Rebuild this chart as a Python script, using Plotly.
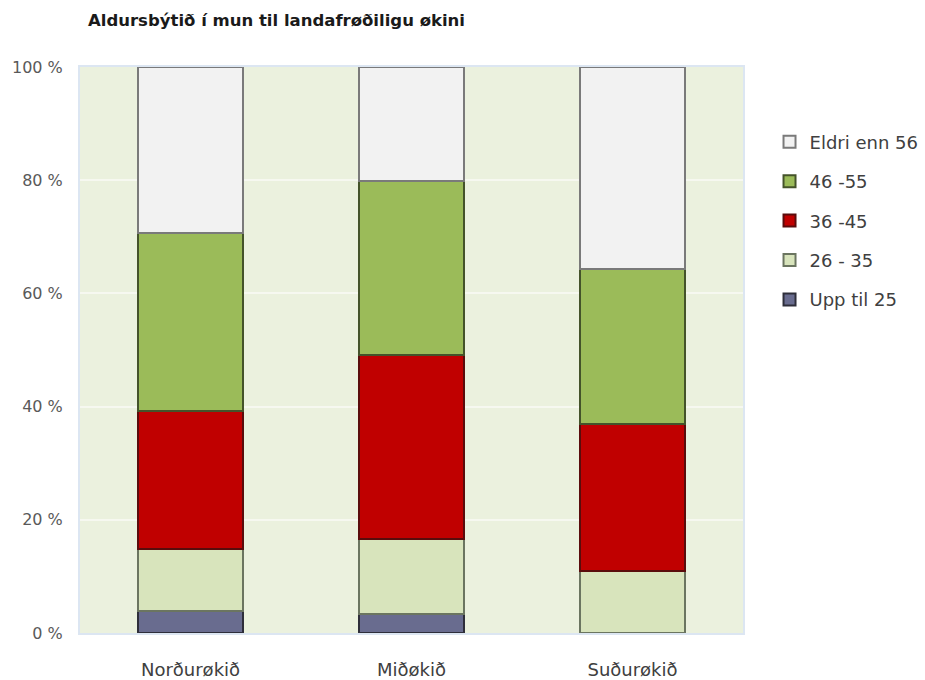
import plotly.graph_objects as go

categories = ["Norðurøkið", "Miðøkið", "Suðurøkið"]
series_names = ["Upp til 25", "26 - 35", "36 -45", "46 -55", "Eldri enn 56"]
upp_til_25 = [3.8, 3.3, 0.0]
aldur_26_35 = [11.0, 13.3, 11.0]
aldur_36_45 = [24.4, 32.6, 26.0]
aldur_46_55 = [31.5, 30.7, 27.4]
eldri_enn_56 = [29.3, 20.1, 35.6]
y_tick_vals = [0, 20, 40, 60, 80, 100]
y_tick_text = ["0 %", "20 %", "40 %", "60 %", "80 %", "100 %"]

values = [upp_til_25, aldur_26_35, aldur_36_45, aldur_46_55, eldri_enn_56]
fills = ["#696c8f", "#d8e4bc", "#c00000", "#9bbb59", "#f2f2f2"]
lines = ["#2e2e3a", "#6b7560", "#5a0c0c", "#44532a", "#7a7a7a"]

fig = go.Figure()
n = len(series_names)
for i, (name, vals, fc, lc) in enumerate(zip(series_names, values, fills, lines)):
    fig.add_trace(go.Bar(
        x=categories, y=vals, name=name, legendgroup=name,
        legendrank=n - i,
        marker=dict(color=fc, line=dict(color=lc, width=2)),
    ))

fig.update_layout(
    width=925, height=680,
    barmode="stack", bargap=0.525,
    paper_bgcolor="white", plot_bgcolor="#ebf1de",
    margin=dict(l=80, r=182, t=67, b=47, autoexpand=False),
    font=dict(family="DejaVu Sans, sans-serif", color="#404040"),
    title=dict(
        text="Aldursbýtið í mun til landafrøðiligu økini",
        font=dict(size=16.5, color="#1a1a1a", family="DejaVu Sans, sans-serif", weight="bold"),
        xref="container", yref="container",
        x=88/925, xanchor="left", y=1-20/680, yanchor="middle",
    ),
    legend=dict(
        x=1.04, xanchor="left", y=0.9, yanchor="top",
        traceorder="grouped", tracegroupgap=13,
        font=dict(size=18, color="#404040", family="DejaVu Sans, sans-serif"),
        bgcolor="rgba(0,0,0,0)",
    ),
    showlegend=True,
)
fig.update_yaxes(
    range=[0, 100], tickvals=y_tick_vals, ticktext=y_tick_text,
    showgrid=True, gridcolor="#f6f8f0", gridwidth=2,
    zeroline=False, showline=True, linecolor="#dce6f2", linewidth=2, mirror=True,
    tickfont=dict(size=16, color="#595959", family="DejaVu Sans, sans-serif"),
    ticklabelstandoff=12, automargin=False,
)
fig.update_xaxes(
    showgrid=False, showline=True, linecolor="#dce6f2", linewidth=2, mirror=True,
    tickfont=dict(size=18, color="#404040", family="DejaVu Sans, sans-serif"),
    ticklabelstandoff=19, automargin=False,
)

fig.write_html("out.html")
